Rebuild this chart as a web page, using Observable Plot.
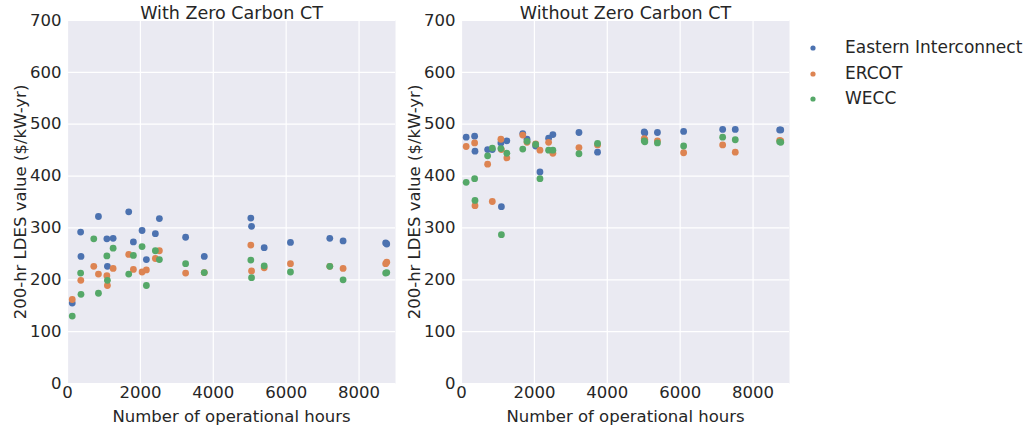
<!DOCTYPE html>
<html>
<head>
<meta charset="utf-8">
<script src="https://cdn.jsdelivr.net/npm/d3@7"></script>
<script src="https://cdn.jsdelivr.net/npm/@observablehq/plot@0.6"></script>
<style>
  body { margin: 0; background: #fff; }
  #wrap { position: relative; width: 1029px; height: 428px; overflow: hidden; font-family: "DejaVu Sans", sans-serif; }
  .panel { position: absolute; top: 0; }
  #legend { position: absolute; left: 800px; top: 35px; font-size: 17px; color: #262626; }
  .row { position: relative; height: 25.5px; line-height: 25.5px; }
  .row svg { position: absolute; left: 8px; top: 8px; }
  .row span { position: absolute; left: 45px; white-space: nowrap; }
</style>
</head>
<body>
<div id="wrap"></div>
<script>
const seriesNames = ["Eastern Interconnect", "ERCOT", "WECC"];
const seriesColors = ["#4c72b0", "#dd8452", "#55a868"];
const panelTitles = ["With Zero Carbon CT", "Without Zero Carbon CT"];
const xTicks = [0, 2000, 4000, 6000, 8000];
const yTicks = [0, 100, 200, 300, 400, 500, 600, 700];

// [operational hours, value $/kW-yr]
const withEastern = [[130,155],[360,292],[370,245],[849,322],[1080,279],[1095,226],[1252,280],[1680,331],[1808,273],[2046,295],[2164,239],[2411,289],[2521,318],[3241,282],[3753,245],[5030,319],[5050,303],[5397,262],[6118,272],[7197,280],[7562,275],[8730,271],[8760,269]];
const withERCOT = [[130,162],[365,199],[721,226],[849,211],[1080,208],[1095,189],[1252,222],[1680,249],[1808,220],[2046,215],[2164,219],[2411,241],[2521,256],[3241,213],[3753,214],[5030,267],[5050,217],[5397,223],[6118,231],[7197,226],[7562,222],[8730,231],[8760,234]];
const withWECC = [[130,130],[360,213],[370,172],[721,279],[849,174],[1080,246],[1095,199],[1252,261],[1680,211],[1808,247],[2046,264],[2164,189],[2411,256],[2521,239],[3241,231],[3753,214],[5030,238],[5050,204],[5397,227],[6118,215],[7197,226],[7562,200],[8730,213],[8760,214]];

const withoutEastern = [[128,475],[360,477],[370,448],[717,451],[845,451],[1081,464],[1095,341],[1245,468],[1681,482],[1798,471],[2035,458],[2153,408],[2390,473],[2507,480],[3223,484],[3733,446],[5014,485],[5030,483],[5376,484],[6095,486],[7166,490],[7512,490],[8730,489],[8760,489]];
const withoutERCOT = [[128,457],[360,464],[370,343],[717,423],[845,351],[1081,471],[1095,451],[1245,435],[1681,479],[1798,465],[2035,462],[2153,450],[2390,465],[2507,444],[3223,455],[3733,460],[5014,472],[5030,470],[5376,468],[6095,445],[7166,460],[7512,446],[8730,469],[8760,468]];
const withoutWECC = [[128,388],[360,395],[370,353],[717,439],[845,454],[1081,453],[1095,287],[1245,444],[1681,452],[1798,467],[2035,461],[2153,395],[2390,450],[2507,450],[3223,443],[3733,463],[5014,468],[5030,466],[5376,464],[6095,458],[7166,475],[7512,470],[8730,466],[8760,465]];

const panels = [
  [withEastern, withERCOT, withWECC],
  [withoutEastern, withoutERCOT, withoutWECC]
];

function makePanel(title, seriesList) {
  const data = seriesList.flatMap((arr, i) => arr.map(([h, v]) => ({hours: h, value: v, series: seriesNames[i]})));
  return Plot.plot({
    width: 400, height: 428,
    marginLeft: 67, marginRight: 5, marginTop: 20, marginBottom: 45,
    style: {fontFamily: "DejaVu Sans, sans-serif", fontSize: "16.5px", color: "#262626", background: "transparent", overflow: "visible"},
    x: {domain: [0, 9000], ticks: xTicks},
    y: {domain: [0, 700], ticks: yTicks},
    color: {domain: seriesNames, range: seriesColors},
    marks: [
      Plot.frame({fill: "#eaeaf2", stroke: "none"}),
      Plot.gridX(xTicks, {stroke: "white", strokeOpacity: 1, strokeWidth: 1.2}),
      Plot.gridY(yTicks, {stroke: "white", strokeOpacity: 1, strokeWidth: 1.2}),
      Plot.axisX(xTicks, {tickSize: 0, tickPadding: 3, fontSize: 16.5, tickFormat: d => String(d), label: "Number of operational hours", labelAnchor: "center", labelArrow: "none", labelOffset: 38}),
      Plot.axisY(yTicks, {tickSize: 0, tickPadding: 6, fontSize: 16.5, tickFormat: d => String(d), label: "200-hr LDES value ($/kW-yr)", labelAnchor: "center", labelArrow: "none", labelOffset: 53}),
      Plot.dot(data, {x: "hours", y: "value", fill: "series", r: 3.4}),
      Plot.text([title], {frameAnchor: "top", lineAnchor: "bottom", dy: -2, fontSize: 17.5, fill: "#262626"})
    ]
  });
}

const wrap = document.getElementById("wrap");
[0, 394].forEach((left, i) => {
  const el = makePanel(panelTitles[i], panels[i]);
  el.classList.add("panel");
  el.style.left = left + "px";
  wrap.appendChild(el);
});

const legend = document.createElement("div");
legend.id = "legend";
seriesNames.forEach((name, i) => {
  const row = document.createElement("div");
  row.className = "row";
  row.innerHTML = `<svg width="10" height="10"><circle cx="5" cy="5" r="2.6" fill="${seriesColors[i]}"/></svg><span>${name}</span>`;
  legend.appendChild(row);
});
wrap.appendChild(legend);
</script>
</body>
</html>
